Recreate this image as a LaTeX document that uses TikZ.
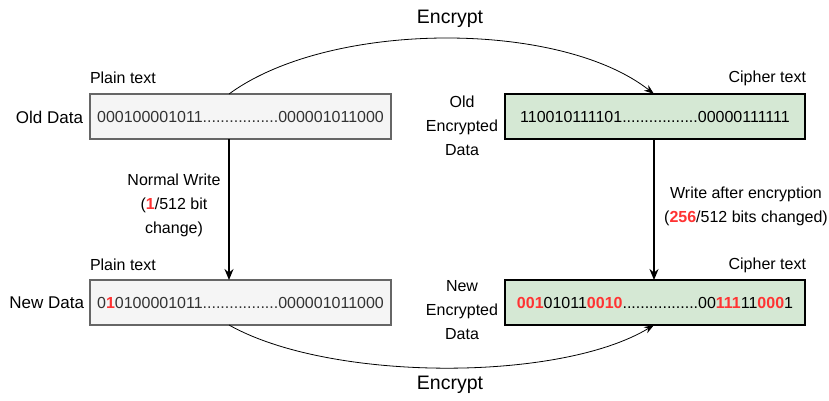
\documentclass[tikz,border=0pt]{standalone}
\usepackage{fontspec}
\setmainfont{Liberation Sans}
\usetikzlibrary{arrows.meta}
\definecolor{plainfill}{HTML}{F5F5F5}
\definecolor{plainborder}{HTML}{666666}
\definecolor{cipherfill}{HTML}{D5E8D4}
\definecolor{hot}{HTML}{FF3333}
\definecolor{txt}{HTML}{333333}
\begin{document}
\begin{tikzpicture}[x=1pt,y=-1pt,
  every node/.style={inner sep=0pt,outer sep=0pt},
  lbl/.style={font=\fontsize{16}{24}\selectfont,align=center},
  sidelbl/.style={font=\fontsize{17}{24}\selectfont,align=center},
  enclbl/.style={font=\fontsize{19.5}{24}\selectfont,align=center},
  plainbox/.style={draw=plainborder,fill=plainfill,line width=1.5pt,minimum width=301pt,minimum height=45pt,font=\fontsize{16}{18}\selectfont,text=txt},
  cipherbox/.style={draw=black,fill=cipherfill,line width=1.5pt,minimum width=300pt,minimum height=45pt,font=\fontsize{16}{18}\selectfont},
  bigarrow/.style={line width=1.7pt,-{Stealth[length=11pt,width=9pt]}},
  curvearrow/.style={line width=0.8pt,-{Stealth[length=10pt,width=7pt]}}]
\useasboundingbox (0,0) rectangle (829,400);
\newcommand{\hr}[1]{\textcolor{hot}{\textbf{#1}}}
\node[plainbox] (od) at (240.5,116.5) {000100001011.................000001011000};
\node[cipherbox] (oe) at (655,116.5) {110010111101.................00000111111};
\node[plainbox] (nd) at (240.5,302.5) {0\hr{1}0100001011.................000001011000};
\node[cipherbox] (ne) at (655,302.5) {\hr{001}01011\hr{0010}.................00\hr{111}11\hr{000}1};

\node[lbl,anchor=west] (pt1) at (90,78) {Plain text};
\node[lbl,anchor=east] (ct1) at (806,78) {Cipher text};
\node[lbl,anchor=west] (pt2) at (90,265) {Plain text};
\node[lbl,anchor=east] (ct2) at (806,265) {Cipher text};
\node[sidelbl,anchor=east] (odl) at (83,117) {Old Data};
\node[sidelbl,anchor=east] (ndl) at (84,303) {New Data};
\node[lbl] (oel) at (462,126) {Old\\Encrypted\\Data};
\node[lbl] (nel) at (462,310) {New\\Encrypted\\Data};
\node[lbl] (nw) at (174,205) {Normal Write\\(\hr{1}/512 bit\\change)};
\node[lbl] (wa) at (746,206.5) {Write after encryption\\(\hr{256}/512 bits changed)};
\node[enclbl] (enc1) at (450,19) {Encrypt};
\node[enclbl] (enc2) at (450,385) {Encrypt};

\coordinate (odt) at (229,94);
\coordinate (oet) at (654,94);
\coordinate (ndb) at (229,325);
\coordinate (neb) at (654,325);
\draw[bigarrow] (od.south -| odt) -- (nd.north -| odt);
\draw[bigarrow] (oe.south -| oet) -- (ne.north -| oet);
\draw[curvearrow] (odt) .. controls (330,20) and (560,20) .. (oet);
\draw[curvearrow] (ndb) .. controls (330,382) and (560,382) .. (neb);
\end{tikzpicture}
\end{document}
